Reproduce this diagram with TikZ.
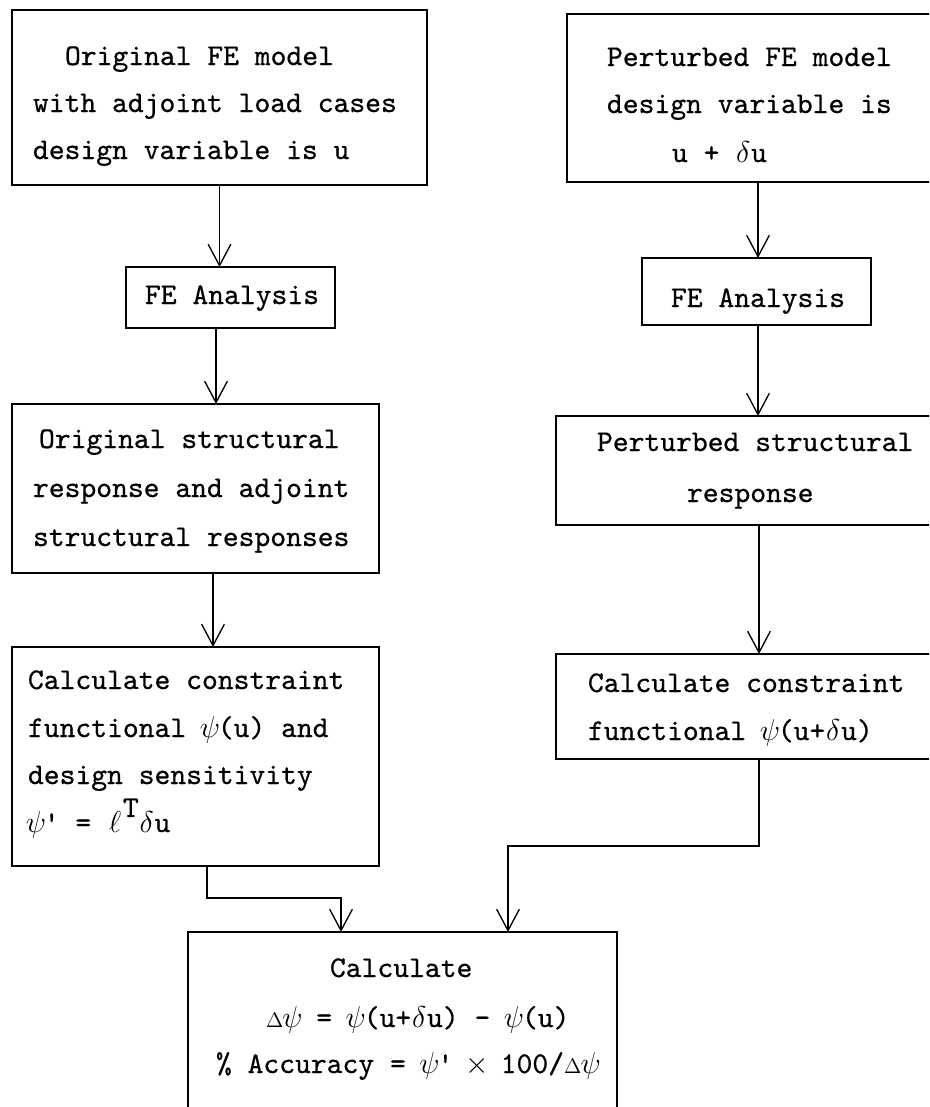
\RequirePackage{fix-cm}
\documentclass[tikz,border=0pt]{standalone}
\usepackage{fontspec}
\usetikzlibrary{arrows.meta}
\newfontfamily\tyf{lmmono10-regular.otf}[FakeBold=0.6]
\newcommand\tyfont{\fontsize{22.6pt}{35pt}\tyf\selectfont}
\newcommand\gk[1]{\makebox[0.525em][c]{$#1$}}
\newcommand\gD{\makebox[0.62em][l]{$\scriptstyle\Delta$}}
\newcommand\Tsup{\makebox[0.525em][c]{\raisebox{0.5em}{T}}}
\tikzset{
  box/.style={draw, line width=1.7pt, rectangle, inner sep=0pt, outer sep=0pt, anchor=north west},
  txt/.style={inner sep=0pt, outer sep=0pt, anchor=base west, font=\tyfont},
  arr/.style={line width=1pt, -{Straight Barb[length=16pt,width=17pt,line width=1pt]}},
}
\begin{document}
\begin{tikzpicture}[x=0.75pt,y=-0.75pt]
\useasboundingbox (0,0) rectangle (929,1107);
\clip (0,0) rectangle (929,1107);
\fill[white] (0,0) rectangle (929,1107);

% boxes
\node[box, minimum width=311.25pt, minimum height=131.25pt] (b1) at (12,10) {};
\node[box, minimum width=279.75pt, minimum height=126pt] (b2) at (567,14) {};
\node[box, minimum width=156.75pt, minimum height=45.75pt] (fe1) at (126,267) {};
\node[box, minimum width=171.75pt, minimum height=50.25pt] (fe2) at (642,258) {};
\node[box, minimum width=275.25pt, minimum height=126.75pt] (osr) at (12,404) {};
\node[box, minimum width=288pt, minimum height=81.75pt] (psr) at (556,416) {};
\node[box, minimum width=275.25pt, minimum height=164.25pt] (cc1) at (12,647) {};
\node[box, minimum width=288pt, minimum height=78.75pt] (cc2) at (556,654) {};
\node[box, minimum width=321.75pt, minimum height=141pt] (fin) at (188,932) {};

% texts
\node[txt] (b1l1) at (65,65) {Original FE model};
\node[txt] (b1l2) at (33,112) {with adjoint load cases};
\node[txt] (b1l3) at (33,159) {design variable is u};

\node[txt] (b2l1) at (607,66) {Perturbed FE model};
\node[txt] (b2l2) at (607,113) {design variable is};
\node[txt] (b2l3) at (672,162) {u + \gk\delta u};

\node[txt] (fe1l) at (145,304) {FE Analysis};
\node[txt] (fe2l) at (671,307) {FE Analysis};

\node[txt] (osrl1) at (39,448) {Original structural};
\node[txt] (osrl2) at (33,497) {response and adjoint};
\node[txt] (osrl3) at (33,546) {structural responses};

\node[txt] (psrl1) at (597,451) {Perturbed structural};
\node[txt] (psrl2) at (687,502) {response};

\node[txt] (cc1l1) at (28,689) {Calculate constraint};
\node[txt] (cc1l2) at (28,737) {functional \gk\psi(u) and};
\node[txt] (cc1l3) at (28,784) {design sensitivity};
\node[txt] (cc1l4) at (28,832) {\gk\psi\textquotesingle{} = \gk\ell\Tsup\gk\delta u};

\node[txt] (cc2l1) at (588,692) {Calculate constraint};
\node[txt] (cc2l2) at (588,740) {functional \gk\psi(u+\gk\delta u)};

\node[txt] (finl1) at (330,977) {Calculate};
\node[txt] (finl2) at (266,1027) {\gD\gk\psi{} = \gk\psi(u+\gk\delta u) - \gk\psi(u)};
\node[txt] (finl3) at (216,1073) {\% Accuracy = \gk\psi\textquotesingle{} \gk\times{} 100/\gD\gk\psi};

% connector columns
\coordinate (cL1) at (216,0);
\coordinate (cL2) at (213,0);
\coordinate (cR1) at (758,0);
\coordinate (cR2) at (759,0);
\coordinate (k1) at (207,898);
\coordinate (k2) at (341,898);
\coordinate (k3) at (759,846);
\coordinate (k4) at (508,846);

% connectors
\draw[arr] (b1.south) -- (b1.south |- fe1.north);
\draw[arr] (fe1.south -| cL1) -- (osr.north -| cL1);
\draw[arr] (osr.south -| cL2) -- (cc1.north -| cL2);
\draw[arr] (b2.south -| cR1) -- (fe2.north -| cR1);
\draw[arr] (fe2.south -| cR1) -- (psr.north -| cR1);
\draw[arr] (psr.south -| cR2) -- (cc2.north -| cR2);
\draw[arr] (cc1.south -| k1) -- (k1) -- (k2) -- (fin.north -| k2);
\draw[arr] (cc2.south -| k3) -- (k3) -- (k4) -- (fin.north -| k4);
\end{tikzpicture}
\end{document}
